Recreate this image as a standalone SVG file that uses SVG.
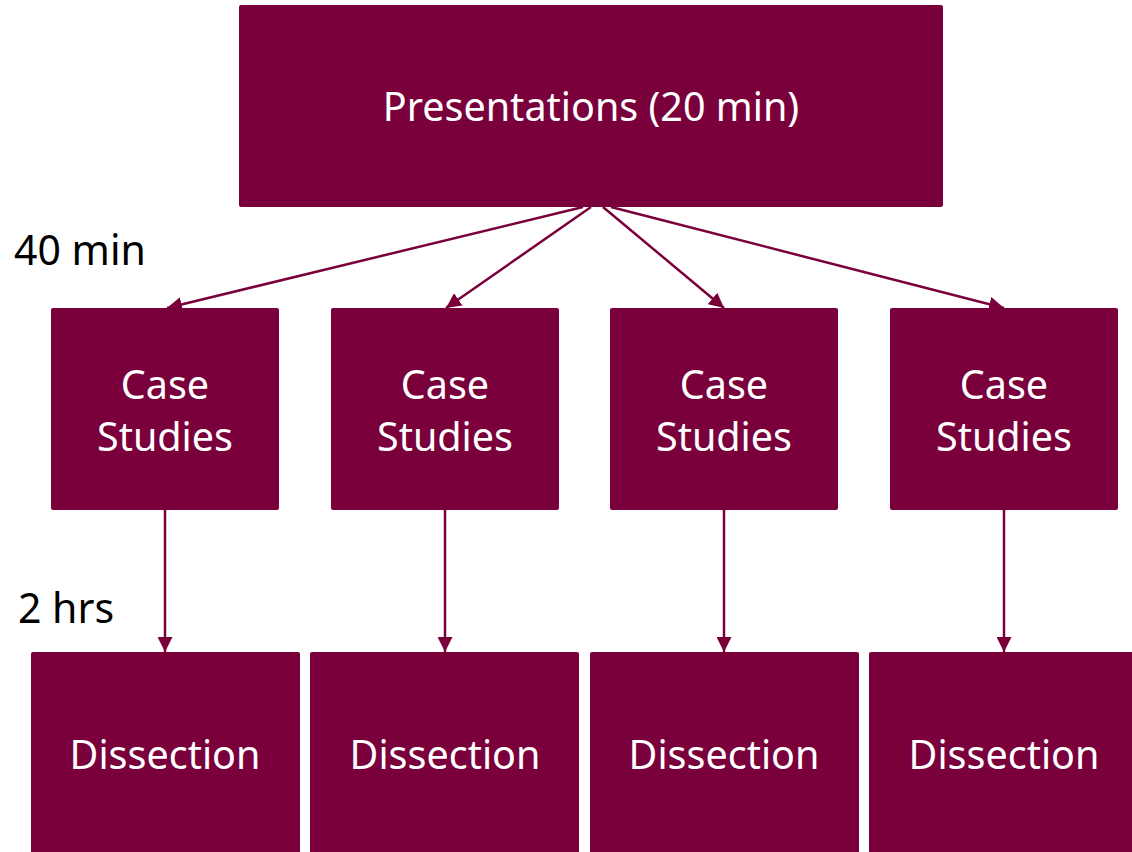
<svg xmlns="http://www.w3.org/2000/svg" width="1132" height="852" viewBox="0 0 1132 852">
<defs>
<style>
.box{fill:#7A003C;}
.t{font-family:"Noto Sans","Open Sans",sans-serif;fill:#fff;font-size:39.5px;text-anchor:middle;}
.lbl{font-family:"Noto Sans","Open Sans",sans-serif;fill:#000;font-size:41px;}
.c{stroke:#7A003C;stroke-width:2.5;fill:none;marker-end:url(#ah);}
</style>
<marker id="ah" viewBox="0 0 10 10" refX="10" refY="5" markerWidth="6" markerHeight="6" orient="auto" markerUnits="strokeWidth">
<path d="M0,0 L10,5 L0,10 z" fill="#7A003C"/>
</marker>
</defs>
<rect width="1132" height="852" fill="#fff"/>
<g id="connectors">
<line class="c" x1="583" y1="207" x2="167" y2="308"/>
<line class="c" x1="591" y1="207" x2="446" y2="308"/>
<line class="c" x1="603" y1="207" x2="724" y2="308"/>
<line class="c" x1="611" y1="207" x2="1004" y2="308"/>
<line class="c" x1="165" y1="510" x2="165" y2="652"/>
<line class="c" x1="445" y1="510" x2="445" y2="652"/>
<line class="c" x1="724" y1="510" x2="724" y2="652"/>
<line class="c" x1="1004" y1="510" x2="1004" y2="652"/>
</g>
<g id="presentations"><rect class="box" x="239" y="5" width="704" height="202" rx="2"/><text class="t" x="591" y="121">Presentations (20 min)</text></g>
<g id="case1"><rect class="box" x="51" y="308" width="228" height="202" rx="2"/><text class="t" x="165" y="399">Case</text><text class="t" x="165" y="451">Studies</text></g>
<g id="case2"><rect class="box" x="331" y="308" width="228" height="202" rx="2"/><text class="t" x="445" y="399">Case</text><text class="t" x="445" y="451">Studies</text></g>
<g id="case3"><rect class="box" x="610" y="308" width="228" height="202" rx="2"/><text class="t" x="724" y="399">Case</text><text class="t" x="724" y="451">Studies</text></g>
<g id="case4"><rect class="box" x="890" y="308" width="228" height="202" rx="2"/><text class="t" x="1004" y="399">Case</text><text class="t" x="1004" y="451">Studies</text></g>
<g id="diss1"><rect class="box" x="31" y="652" width="269" height="210" rx="2"/><text class="t" x="165" y="769">Dissection</text></g>
<g id="diss2"><rect class="box" x="310" y="652" width="269" height="210" rx="2"/><text class="t" x="445" y="769">Dissection</text></g>
<g id="diss3"><rect class="box" x="590" y="652" width="269" height="210" rx="2"/><text class="t" x="724" y="769">Dissection</text></g>
<g id="diss4"><rect class="box" x="869" y="652" width="269" height="210" rx="2"/><text class="t" x="1004" y="769">Dissection</text></g>
<g id="label-40"><text class="lbl" x="14" y="265">40 min</text></g>
<g id="label-2"><text class="lbl" x="18" y="623">2 hrs</text></g>
</svg>
